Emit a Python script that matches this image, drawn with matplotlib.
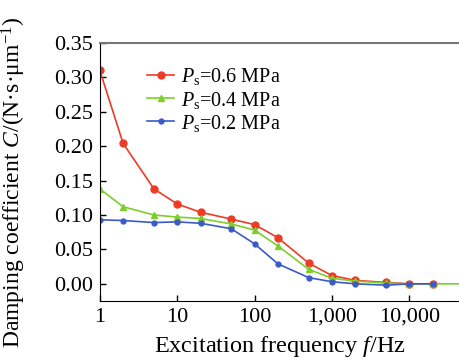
import matplotlib.pyplot as plt
import matplotlib.ticker as mticker

plt.rcParams['font.family'] = ['Liberation Serif', 'DejaVu Serif']
plt.rcParams['mathtext.fontset'] = 'custom'
plt.rcParams['mathtext.rm'] = 'Liberation Serif'
plt.rcParams['mathtext.it'] = 'Liberation Serif:italic'

# Data
freq = [1, 2, 5, 10, 20, 50, 100, 200, 500, 1000, 2000, 5000, 10000, 20000]
freq_green = freq + [50000]
c_06 = [0.310, 0.204, 0.138, 0.116, 0.104, 0.094, 0.086, 0.067, 0.030, 0.012, 0.005, 0.002, 0.000, 0.000]
c_04 = [0.138, 0.112, 0.100, 0.097, 0.095, 0.087, 0.078, 0.055, 0.021, 0.008, 0.004, 0.001, 0.000, 0.000, 0.000]
c_02 = [0.093, 0.092, 0.089, 0.090, 0.088, 0.080, 0.058, 0.029, 0.009, 0.003, 0.000, -0.002, 0.000, 0.000]

labels = ['$P_{\\mathrm{s}}$=0.6 MPa', '$P_{\\mathrm{s}}$=0.4 MPa', '$P_{\\mathrm{s}}$=0.2 MPa']
y_ticks = [0.00, 0.05, 0.10, 0.15, 0.20, 0.25, 0.30, 0.35]
x_ticks = [1, 10, 100, 1000, 10000]

fig = plt.figure(figsize=(4.6, 3.64), dpi=100)
ax = fig.add_axes([0.217, 0.173, 0.783, 0.709])

ax.plot(freq, c_06, color='#ee3b26', marker='o', markersize=5, lw=1.2, label=labels[0])
ax.plot(freq_green, c_04, color='#7ccf2a', marker='^', markersize=4, lw=1.2, label=labels[1])
ax.plot(freq, c_02, color='#3a5ac8', marker='o', markersize=3.5, lw=1.2, label=labels[2])

ax.set_xscale('log')
ax.set_xlim(1, 45000)
ax.set_ylim(-0.025, 0.35)
ax.set_xticks(x_ticks)
ax.xaxis.set_major_formatter(mticker.FuncFormatter(lambda v, p: f'{int(v):,}'))
ax.xaxis.set_minor_locator(mticker.NullLocator())
ax.set_yticks(y_ticks)
ax.set_yticklabels([f'{v:.2f}' for v in y_ticks])
ax.tick_params(direction='in', length=4, labelsize=16, pad=5, width=1)

ax.spines['right'].set_visible(False)
ax.spines['top'].set_color('#777777')
ax.spines['top'].set_linewidth(1.5)

ax.set_xlabel('Excitation frequency $f$/Hz', fontsize=17.5, labelpad=5)
ax.set_ylabel('Damping coefficient $C$/(N·s·μm$^{-1}$)', fontsize=17)
ax.yaxis.set_label_coords(-0.2, 0.46)

ax.legend(loc='upper left', bbox_to_anchor=(0.11, 0.94), frameon=False, fontsize=14.5,
          handlelength=1.3, handletextpad=0.35, labelspacing=0.1, borderaxespad=0)

fig.savefig('out.png', dpi=100)
